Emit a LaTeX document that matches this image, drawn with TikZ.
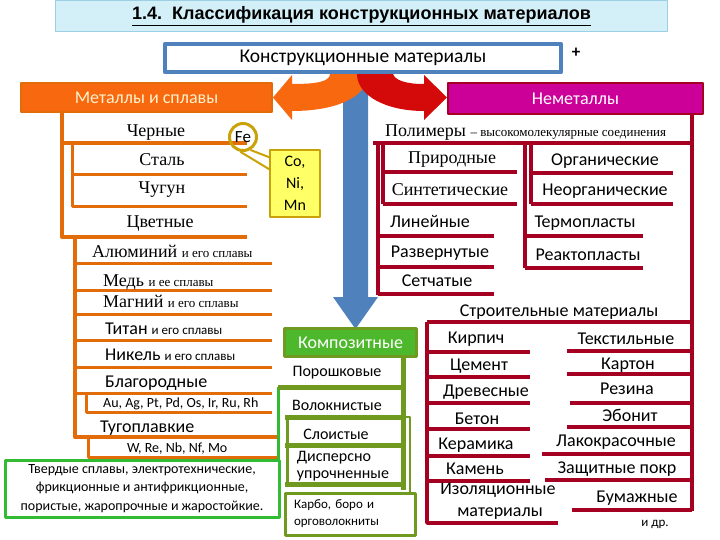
\documentclass[tikz,border=0pt]{standalone}
\usepackage{fontspec}
\setmainfont{Carlito}
\newfontfamily\timesf{Liberation Serif}
\newfontfamily\arialf{Liberation Sans}
\usetikzlibrary{positioning}
\definecolor{titlefill}{HTML}{D3EFF8}
\definecolor{titleline}{HTML}{9CCFE3}
\definecolor{kblue}{HTML}{4F81BD}
\definecolor{morange}{HTML}{F7680F}
\definecolor{mdark}{HTML}{E36C0A}
\definecolor{mtext}{HTML}{FFF2CC}
\definecolor{nred}{HTML}{D40A0A}
\definecolor{nmag}{HTML}{CC0099}
\definecolor{ncrim}{HTML}{A50021}
\definecolor{cgreen}{HTML}{4DB82C}
\definecolor{colive}{HTML}{6F9A1F}
\definecolor{bgreen}{HTML}{33BB33}
\definecolor{fegold}{HTML}{C9A20A}
\definecolor{feyell}{HTML}{FFFF66}
\newcommand\smtxt[1]{{\fontsize{13}{15}\selectfont #1}}
\tikzset{
  item/.style={inner sep=0pt, text height=0.9em, text depth=0.1em, font=\fontsize{18}{20}\selectfont},
  seritem/.style={item, font=\timesf\fontsize{18}{20}\selectfont},
  citem/.style={item, font=\fontsize{16}{18}\selectfont},
  mline/.style={mdark, line width=4pt},
  mthin/.style={mdark, line width=3pt},
  nline/.style={ncrim, line width=3.5pt},
  cline/.style={colive, line width=5pt},
  headbox/.style={inner sep=0pt, line width=2pt, font=\fontsize{18}{20}\selectfont}
}
\begin{document}
\begin{tikzpicture}[x=1pt,y=-1pt,line join=round]
\useasboundingbox (0,0) rectangle (720,540);
% title
\node[draw=titleline, fill=titlefill, line width=1pt, minimum width=612pt, minimum height=31pt, font=\arialf\bfseries\fontsize{18}{20}\selectfont] (title) at (361.5,16) {\underline{1.4.\ \ Классификация конструкционных материалов}};
% arrows
\fill[kblue] (343,74) -- (343,297) -- (333,297) -- (355.5,329) -- (378,297) -- (368,297) -- (368,74) -- cycle;
\fill[morange] (330,74) .. controls (330,82) and (315,84) .. (292,84) -- (292,75) -- (273,97.5) -- (292,120) -- (292,111) .. controls (340,111) and (368,95) .. (368,74) -- cycle;
\fill[nred] (357,74) .. controls (357,95) and (385,111) .. (424,111) -- (424,120) -- (447,97.5) -- (424,75) -- (424,84) .. controls (405,84) and (395,80) .. (393,74) -- cycle;
\node[draw=kblue, fill=white, line width=4.5pt, minimum width=396pt, minimum height=28pt, font=\fontsize{19.5}{22}\selectfont] (konstr) at (363,58) {Конструкционные материалы};
\node[font=\bfseries\fontsize{17}{20}\selectfont] (plus) at (576,53) {+};
\node[headbox, draw=mdark, fill=morange, text=mtext, minimum width=251pt, minimum height=29pt] (met) at (146.5,97.5) {Металлы и сплавы};
\node[headbox, draw=ncrim, fill=nmag, text=white, minimum width=255pt, minimum height=31pt] (nonmet) at (575.5,98.5) {Неметаллы};

% metals
\draw[mline] (62,113) -- (62,237) -- (247,237);
\draw[mline] (62,143) -- (247,143);
\draw[mthin] (72,143) -- (72,207) -- (247,207) (72,175) -- (247,175);
\draw[mline] (75,237) -- (75,437) -- (278,437);
\foreach \y in {263,290,314,340,367,393}
  \draw[mthin] (75,\y) -- (272,\y);
\draw[mthin] (86,393) -- (86,412) -- (272,412);
\draw[mthin] (88,437) -- (88,457) -- (278,457);
\node[seritem] (chern) at (156,133) {Черные};
\node[seritem] (stal) at (162,162) {Сталь};
\node[seritem] (chugun) at (162,190) {Чугун};
\node[seritem] (tsvet) at (160,223) {Цветные};
\node[seritem, anchor=west] (alum) at (92,253) {Алюминий \smtxt{и его сплавы}};
\node[seritem, anchor=west] (med) at (103,282) {Медь \smtxt{и ее сплавы}};
\node[seritem, anchor=west] (magn) at (103,303) {Магний \smtxt{и его сплавы}};
\node[item, anchor=west] (titan) at (105,330) {Титан \smtxt{и его сплавы}};
\node[item, anchor=west] (nikel) at (105,356) {Никель \smtxt{и его сплавы}};
\node[item, anchor=west] (blagor) at (105,383) {Благородные};
\node[item, anchor=west, font=\fontsize{14}{16}\selectfont] (blagel) at (103,403) {Au, Ag, Pt, Pd, Os, Ir, Ru, Rh};
\node[item, anchor=west] (tugopl) at (100,428) {Тугоплавкие};
\node[item, anchor=west, font=\fontsize{14}{16}\selectfont] (tugel) at (127,448) {W, Re, Nb, Nf, Mo};
\node[draw=bgreen, line width=3pt, minimum width=274pt, minimum height=57pt, align=center, font=\fontsize{14}{18.5}\selectfont] (tverd) at (142,488.5) {Твердые сплавы, электротехнические,\\фрикционные и антифрикционные,\\пористые, жаропрочные и жаростойкие.};
% Fe callout
\node[circle, draw=fegold, line width=3pt, minimum size=27pt, inner sep=0pt, font=\fontsize{17}{18}\selectfont] (fe) at (243,137) {Fe};
\node[draw=fegold, fill=feyell, line width=1.5pt, minimum width=50pt, minimum height=67pt, align=center, font=\fontsize{16}{22}\selectfont] (coni) at (295,183.5) {Co,\\Ni,\\Mn};
\draw[fegold, line width=2pt] (fe.-60) -- ([yshift=-8pt]coni.north west) (fe.-100) -- ([yshift=-20pt]coni.north west);

% nonmetals
\draw[nline] (692,115) -- (692,511);
\draw[nline] (373,143) -- (692,143);
\draw[nline] (378,143) -- (378,295);
\draw[nline] (383,143) -- (383,204);
\foreach \y in {172,204}
  \draw[nline] (383,\y) -- (517,\y);
\foreach \y in {236,267,294}
  \draw[nline] (378,\y) -- (494,\y);
\draw[nline] (525,143) -- (525,268);
\draw[nline] (531,143) -- (531,204);
\foreach \y in {173,204}
  \draw[nline] (531,\y) -- (673,\y);
\foreach \y in {236,268}
  \draw[nline] (525,\y) -- (643,\y);
\draw[nline] (427,322) -- (692,322);
\draw[nline] (427,322) -- (427,523) -- (558,523);
\foreach \y in {352,377,403,429,456,481}
  \draw[nline] (427,\y) -- (530,\y);
\foreach \x/\y in {567/351,567/374,570/403,567/427,542/454,545/480,572/510}
  \draw[nline] (\x,\y) -- (692,\y);
\node[seritem, anchor=west] (polim) at (385,133) {Полимеры \smtxt{– высокомолекулярные соединения}};
\node[seritem] (prirod) at (452,160) {Природные};
\node[seritem] (sintet) at (450,192) {Синтетические};
\node[item] (linein) at (430,223) {Линейные};
\node[item] (razv) at (440,254) {Развернутые};
\node[item] (setch) at (437,282) {Сетчатые};
\node[item] (organ) at (605,162) {Органические};
\node[item] (neorg) at (605,192) {Неорганические};
\node[item] (termo) at (585,223) {Термопласты};
\node[item] (reakto) at (588,256) {Реактопласты};
\node[item] (stroit) at (559,312) {Строительные материалы};
\node[item] (kirp) at (476,339) {Кирпич};
\node[item] (cement) at (479,366) {Цемент};
\node[item] (drev) at (486,392) {Древесные};
\node[item] (beton) at (477,420) {Бетон};
\node[item] (keram) at (476,445) {Керамика};
\node[item] (kamen) at (475,470) {Камень};
\node[item] (izol) at (498,490) {Изоляционные};
\node[item] (izolm) at (500,512) {материалы};
\node[item] (tekst) at (626,340) {Текстильные};
\node[item] (karton) at (628,365) {Картон};
\node[item] (rezina) at (627,390) {Резина};
\node[item] (ebonit) at (630,417) {Эбонит};
\node[item] (lakokr) at (616,442) {Лакокрасочные};
\node[item] (zasch) at (617,469) {Защитные покр};
\node[item] (bumazh) at (637,498) {Бумажные};
\node[item, font=\fontsize{13}{15}\selectfont] (idr) at (655,522) {и др.};

% composites
\draw[cline] (403,358) -- (403,490);
\draw[bgreen, line width=3pt] (278,387) -- (278,460);
\draw[cline] (278,387) -- (403,387);
\foreach \y in {417,445,484}
  \draw[cline] (285,\y) -- (403,\y);
\draw[colive, line width=3pt] (287,417) -- (287,485);
\draw[colive, line width=2pt] (403,417) -- (410,417) -- (410,493);
\node[draw=colive, fill=cgreen, line width=3pt, minimum width=132pt, minimum height=28pt, text=white, font=\fontsize{18}{20}\selectfont] (komp) at (350.5,342.5) {Композитные};
\node[citem] (porosh) at (337,372) {Порошковые};
\node[citem] (volokn) at (337,406) {Волокнистые};
\node[citem] (sloist) at (336,435) {Слоистые};
\node[citem] (dispers) at (334,457) {Дисперсно};
\node[citem] (uproch) at (343,474) {упрочненные};
\node[draw=colive, fill=white, line width=3pt, minimum width=130pt, minimum height=42pt, align=left, text width=112pt, font=\fontsize{13}{17}\selectfont] (karbo) at (350,514) {Карбо, боро и\\орговолокниты};
\end{tikzpicture}
\end{document}
